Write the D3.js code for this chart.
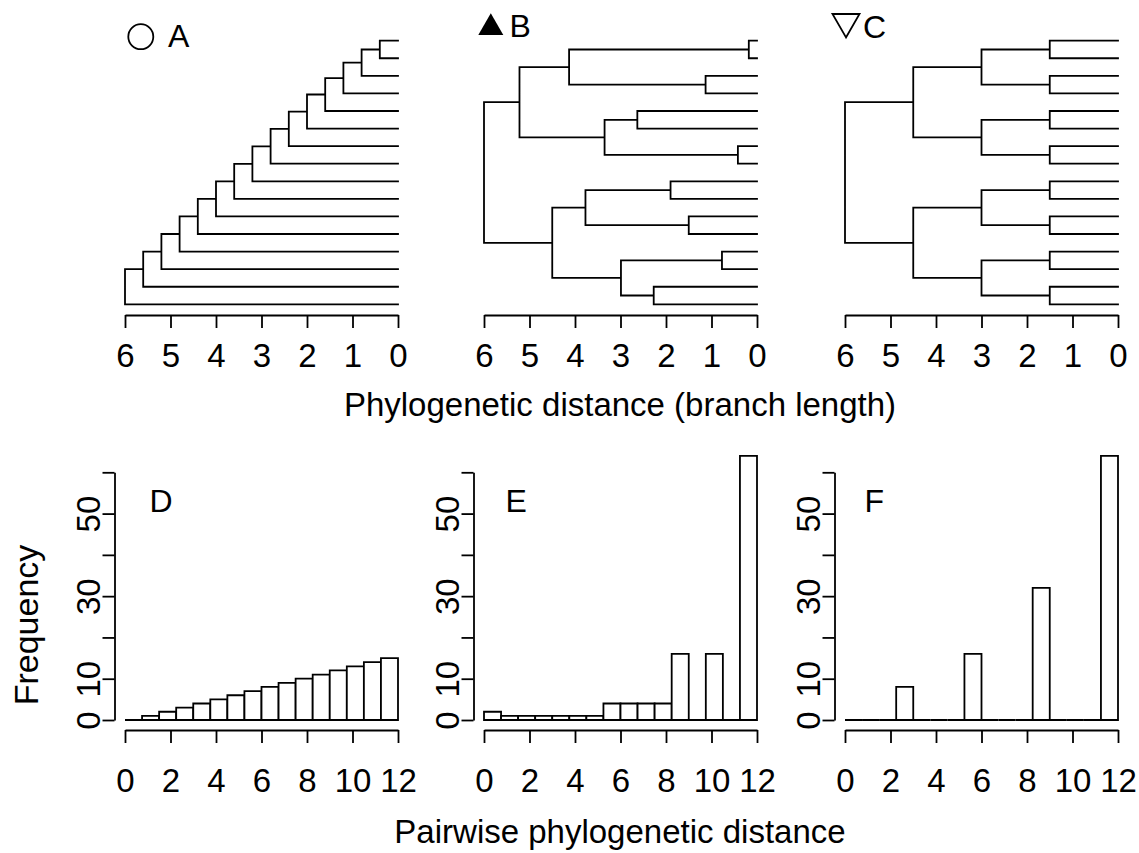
<!DOCTYPE html>
<html>
<head>
<meta charset="UTF-8">
<title>Trees and pairwise distances</title>
<script src="https://cdn.jsdelivr.net/npm/d3@7/dist/d3.min.js"></script>
<style type="text/css">
  body { margin:0; background:white; }
  svg text { font-family: "Liberation Sans", Arial, sans-serif; fill: black; }
</style>
</head>
<body>
<script type="text/javascript">

// tips, top to bottom
var tips = ["t1","t2","t3","t4","t5","t6","t7","t8","t9","t10","t11","t12","t13","t14","t15","t16"];

// internal nodes : [name, height, upper child, lower child]
var treeA = [
  ["n1", 0.4, "t1", "t2"],
  ["n2", 0.8, "n1", "t3"],
  ["n3", 1.2, "n2", "t4"],
  ["n4", 1.6, "n3", "t5"],
  ["n5", 2.0, "n4", "t6"],
  ["n6", 2.4, "n5", "t7"],
  ["n7", 2.8, "n6", "t8"],
  ["n8", 3.2, "n7", "t9"],
  ["n9", 3.6, "n8", "t10"],
  ["n10", 4.0, "n9", "t11"],
  ["n11", 4.4, "n10", "t12"],
  ["n12", 4.8, "n11", "t13"],
  ["n13", 5.2, "n12", "t14"],
  ["n14", 5.6, "n13", "t15"],
  ["n15", 6.0, "n14", "t16"]
];
var treeB = [
  ["a", 0.18, "t1", "t2"],
  ["b", 1.13, "t3", "t4"],
  ["c", 2.63, "t5", "t6"],
  ["d", 0.42, "t7", "t8"],
  ["e", 1.90, "t9", "t10"],
  ["f", 1.50, "t11", "t12"],
  ["g", 0.77, "t13", "t14"],
  ["h", 2.27, "t15", "t16"],
  ["s1", 4.13, "a", "b"],
  ["s2", 3.35, "c", "d"],
  ["s3", 3.77, "e", "f"],
  ["s4", 2.99, "g", "h"],
  ["u", 5.22, "s1", "s2"],
  ["l", 4.50, "s3", "s4"],
  ["root", 6.0, "u", "l"]
];
var treeC = [
  ["a", 1.5, "t1", "t2"],
  ["b", 1.5, "t3", "t4"],
  ["c", 1.5, "t5", "t6"],
  ["d", 1.5, "t7", "t8"],
  ["e", 1.5, "t9", "t10"],
  ["f", 1.5, "t11", "t12"],
  ["g", 1.5, "t13", "t14"],
  ["h", 1.5, "t15", "t16"],
  ["ab", 3.0, "a", "b"],
  ["cd", 3.0, "c", "d"],
  ["ef", 3.0, "e", "f"],
  ["gh", 3.0, "g", "h"],
  ["ad", 4.5, "ab", "cd"],
  ["eh", 4.5, "ef", "gh"],
  ["root", 6.0, "ad", "eh"]
];
var treeTicks = [6, 5, 4, 3, 2, 1, 0];

// histograms of pairwise distance
var binEdges = [0, 0.75, 1.5, 2.25, 3, 3.75, 4.5, 5.25, 6, 6.75, 7.5, 8.25, 9, 9.75, 10.5, 11.25, 12];
var countsD = [0, 1, 2, 3, 4, 5, 6, 7, 8, 9, 10, 11, 12, 13, 14, 15];
var countsE = [2, 1, 1, 1, 1, 1, 1, 4, 4, 4, 4, 16, 0, 16, 0, 64];
var countsF = [0, 0, 0, 8, 0, 0, 0, 16, 0, 0, 0, 32, 0, 0, 0, 64];
var histXTicks = [0, 2, 4, 6, 8, 10, 12];
var histYTicks = [0, 10, 20, 30, 40, 50, 60];
var histYLabels = [0, 10, 30, 50];

var large = 1139, haut = 853,
  lw = 1.8,
  fs = 33,
  panelX = [125, 484, 845], panelW = 273;

var svg = d3.select('body').append('svg')
  .attr('width', large)
  .attr('height', haut);

svg.append('rect').attr('width', large).attr('height', haut).attr('fill', 'white');

var yLeaf = d3.scalePoint().domain(tips).range([40.7, 304.3]);

function styleAxis(ax) {
  ax.selectAll('path, line').attr('stroke', 'black').attr('stroke-width', lw);
  ax.selectAll('text').attr('fill', 'black').attr('font-size', fs)
    .style('font-family', '"Liberation Sans", Arial, sans-serif');
}

function drawTree(nodes, x0) {
  var x = d3.scaleLinear().domain([6, 0]).range([x0, x0 + panelW]);
  var info = {}, yPos = {};
  nodes.forEach(function(n){ info[n[0]] = {h: n[1], kids: [n[2], n[3]]}; });
  //position verticale : feuilles puis moyenne des enfants
  function place(name) {
    if (!info[name]) { yPos[name] = yLeaf(name); return; }
    info[name].kids.forEach(place);
    yPos[name] = d3.mean(info[name].kids, function(k){ return yPos[k]; });
  }
  var root = nodes.reduce(function(a, b){ return a[1] >= b[1] ? a : b; })[0];
  place(root);

  var p = d3.path();
  nodes.forEach(function(n){
    var xn = x(n[1]);
    p.moveTo(xn, yPos[n[2]]); p.lineTo(xn, yPos[n[3]]);
    [n[2], n[3]].forEach(function(k){
      p.moveTo(xn, yPos[k]);
      p.lineTo(x(info[k] ? info[k].h : 0), yPos[k]);
    });
  });
  svg.append('path')
    .attr('d', p.toString())
    .attr('fill', 'none')
    .attr('stroke', 'black')
    .attr('stroke-width', lw)
    .attr('stroke-linecap', 'square');

  var ax = svg.append('g')
    .attr('transform', 'translate(0,315)')
    .call(d3.axisBottom(x).tickValues(treeTicks).tickFormat(d3.format('d'))
      .tickSize(13).tickSizeOuter(0).tickPadding(16));
  styleAxis(ax);
}

var yH = d3.scaleLinear().domain([0, 60]).range([720, 472.3]);

function drawHist(counts, x0) {
  var x = d3.scaleLinear().domain([0, 12]).range([x0, x0 + panelW]);
  var bins = counts.map(function(c, i){ return {x0: binEdges[i], x1: binEdges[i+1], n: c}; });
  svg.append('g').selectAll('path')
    .data(bins).enter().append('path')
    .attr('d', function(d){
      var p = d3.path();
      p.moveTo(x(d.x0), yH(0));
      p.lineTo(x(d.x0), yH(d.n));
      p.lineTo(x(d.x1), yH(d.n));
      p.lineTo(x(d.x1), yH(0));
      p.closePath();
      return p.toString();
    })
    .attr('fill', 'white')
    .attr('stroke', 'black')
    .attr('stroke-width', lw);

  var ax = svg.append('g')
    .attr('transform', 'translate(0,730)')
    .call(d3.axisBottom(x).tickValues(histXTicks).tickSize(13).tickSizeOuter(0).tickPadding(26));
  styleAxis(ax);

  var ay = svg.append('g')
    .attr('transform', 'translate(' + (x0 - 10.5) + ',0)')
    .call(d3.axisLeft(yH).tickValues(histYTicks).tickSize(12).tickSizeOuter(0)
      .tickFormat(function(d){ return histYLabels.indexOf(d) >= 0 ? d : ''; }));
  styleAxis(ay);
  ay.selectAll('text')
    .attr('text-anchor', 'middle')
    .attr('x', 0).attr('dy', '0.36em')
    .attr('transform', 'translate(-26,0) rotate(-90)');
}

drawTree(treeA, panelX[0]);
drawTree(treeB, panelX[1]);
drawTree(treeC, panelX[2]);
drawHist(countsD, panelX[0]);
drawHist(countsE, panelX[1]);
drawHist(countsF, panelX[2]);

// titres
svg.append('text').attr('x', 620).attr('y', 416).attr('text-anchor', 'middle')
  .attr('font-size', fs).text('Phylogenetic distance (branch length)');
svg.append('text').attr('x', 620).attr('y', 843).attr('text-anchor', 'middle')
  .attr('font-size', fs).text('Pairwise phylogenetic distance');
svg.append('text').attr('transform', 'translate(38,625) rotate(-90)').attr('text-anchor', 'middle')
  .attr('font-size', 34).text('Frequency');

// lettres des panneaux
var lettres = [
  {t: 'A', x: 168, y: 47}, {t: 'B', x: 509.5, y: 37}, {t: 'C', x: 863, y: 37.5},
  {t: 'D', x: 149.5, y: 512}, {t: 'E', x: 505.5, y: 512}, {t: 'F', x: 864.5, y: 512}
];
svg.selectAll('.lettre').data(lettres).enter().append('text')
  .attr('class', 'lettre')
  .attr('x', function(d){ return d.x; })
  .attr('y', function(d){ return d.y; })
  .attr('font-size', 32)
  .text(function(d){ return d.t; });

// symboles
svg.append('path').attr('d', d3.symbol().type(d3.symbolCircle).size(491)())
  .attr('transform', 'translate(140.8,36.7)')
  .attr('fill', 'none').attr('stroke', 'black').attr('stroke-width', lw);
svg.append('path').attr('d', d3.symbol().type(d3.symbolTriangle).size(271)())
  .attr('transform', 'translate(490.8,27.7)')
  .attr('fill', 'black');
svg.append('path').attr('d', d3.symbol().type(d3.symbolTriangle).size(316)())
  .attr('transform', 'translate(846,21.8) rotate(180)')
  .attr('fill', 'none').attr('stroke', 'black').attr('stroke-width', lw);

</script>
</body>
</html>
